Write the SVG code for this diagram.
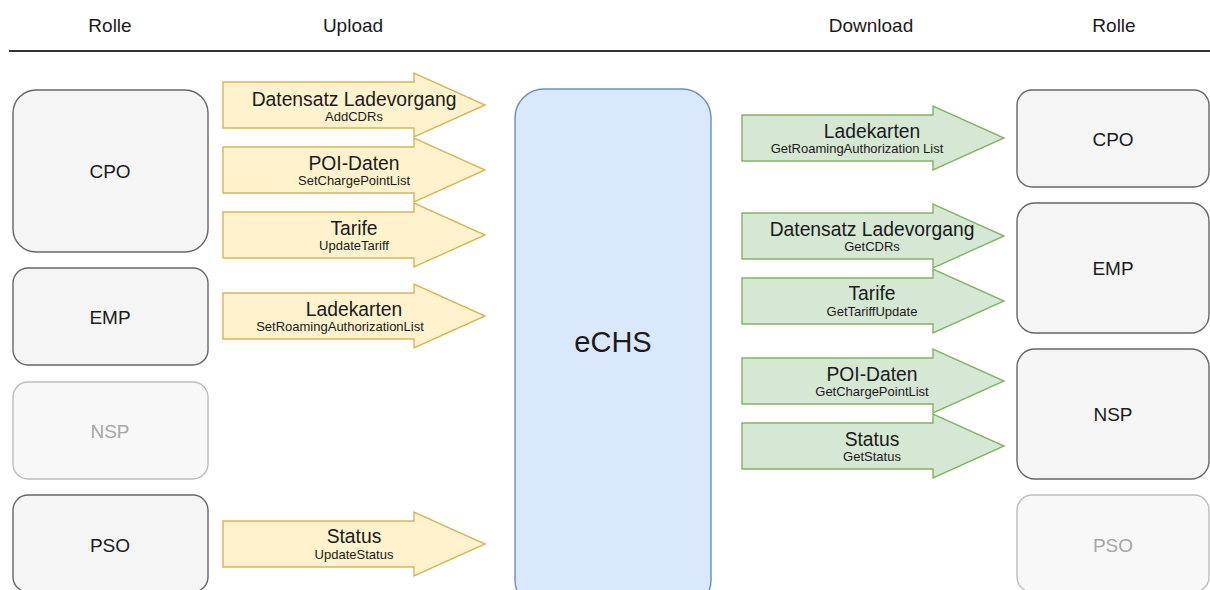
<svg xmlns="http://www.w3.org/2000/svg" width="1210" height="590" viewBox="0 0 1210 590">
  <style>
    text { font-family: "Liberation Sans", Arial, sans-serif; text-anchor: middle; fill: #1a1a1a; }
    .hdr { font-size: 19px; }
    .role { fill: #f5f5f5; stroke: #666666; stroke-width: 1.4; }
    .role-off { fill: #f8f8f8; stroke: #bdbdbd; stroke-width: 1.4; }
    .lbl { font-size: 19px; }
    .lbl-off { font-size: 19px; fill: #a6a6a6; }
    .hub { fill: #dae8fc; stroke: #6c8ebf; stroke-width: 1.4; }
    .hub-lbl { font-size: 29px; }
    .up { fill: #fff2cc; stroke: #d6b656; stroke-width: 1.4; }
    .down { fill: #d5e8d4; stroke: #82b366; stroke-width: 1.4; }
    .t { font-size: 19.3px; }
    .s { font-size: 13px; }
  </style>
  <defs>
    <!-- block arrow: body 46 high, head 64 high, origin at left middle -->
    <path id="blockArrow" d="M0,-23 H191 V-32 L262,0 L191,32 V23 H0 Z"/>
  </defs>

  <!-- column headers -->
  <g id="header">
    <text class="hdr" x="110" y="32">Rolle</text>
    <text class="hdr" x="353" y="32">Upload</text>
    <text class="hdr" x="871" y="32">Download</text>
    <text class="hdr" x="1114" y="32">Rolle</text>
    <line x1="9" y1="51" x2="1210" y2="51" stroke="#333333" stroke-width="2"/>
  </g>

  <!-- roles on the upload side -->
  <g id="left-cpo">
    <rect class="role" x="13" y="90" width="195" height="162" rx="23"/>
    <text class="lbl" x="110" y="178">CPO</text>
  </g>
  <g id="left-emp">
    <rect class="role" x="13" y="268" width="195" height="97" rx="15"/>
    <text class="lbl" x="110" y="324">EMP</text>
  </g>
  <g id="left-nsp">
    <rect class="role-off" x="13" y="382" width="195" height="97" rx="15"/>
    <text class="lbl-off" x="110" y="438">NSP</text>
  </g>
  <g id="left-pso">
    <rect class="role" x="13" y="495" width="195" height="97" rx="15"/>
    <text class="lbl" x="110" y="552">PSO</text>
  </g>

  <!-- clearing house -->
  <g id="echs">
    <rect class="hub" x="515" y="89" width="196" height="520" rx="29"/>
    <text class="hub-lbl" x="613" y="352">eCHS</text>
  </g>

  <!-- roles on the download side -->
  <g id="right-cpo">
    <rect class="role" x="1017" y="90" width="192" height="97" rx="15"/>
    <text class="lbl" x="1113" y="146">CPO</text>
  </g>
  <g id="right-emp">
    <rect class="role" x="1017" y="203" width="192" height="130" rx="18"/>
    <text class="lbl" x="1113" y="275">EMP</text>
  </g>
  <g id="right-nsp">
    <rect class="role" x="1017" y="349" width="192" height="130" rx="18"/>
    <text class="lbl" x="1113" y="421">NSP</text>
  </g>
  <g id="right-pso">
    <rect class="role-off" x="1017" y="495" width="192" height="97" rx="15"/>
    <text class="lbl-off" x="1113" y="552">PSO</text>
  </g>

  <!-- data flows -->
  <g id="connectors">
    <g id="up-cdrs">
      <use href="#blockArrow" class="up" transform="translate(223,105)"/>
      <text class="t" x="354" y="106">Datensatz Ladevorgang</text>
      <text class="s" x="354" y="121">AddCDRs</text>
    </g>
    <g id="up-poi">
      <use href="#blockArrow" class="up" transform="translate(223,170)"/>
      <text class="t" x="354" y="170">POI-Daten</text>
      <text class="s" x="354" y="185">SetChargePointList</text>
    </g>
    <g id="up-tariff">
      <use href="#blockArrow" class="up" transform="translate(223,235)"/>
      <text class="t" x="354" y="235">Tarife</text>
      <text class="s" x="354" y="250">UpdateTariff</text>
    </g>
    <g id="up-cards">
      <use href="#blockArrow" class="up" transform="translate(223,316)"/>
      <text class="t" x="354" y="316">Ladekarten</text>
      <text class="s" x="340" y="331">SetRoamingAuthorizationList</text>
    </g>
    <g id="up-status">
      <use href="#blockArrow" class="up" transform="translate(223,544)"/>
      <text class="t" x="354" y="543">Status</text>
      <text class="s" x="354" y="559">UpdateStatus</text>
    </g>

    <g id="down-cards">
      <use href="#blockArrow" class="down" transform="translate(742,138)"/>
      <text class="t" x="872" y="138">Ladekarten</text>
      <text class="s" x="857" y="153">GetRoamingAuthorization List</text>
    </g>
    <g id="down-cdrs">
      <use href="#blockArrow" class="down" transform="translate(742,236)"/>
      <text class="t" x="872" y="236">Datensatz Ladevorgang</text>
      <text class="s" x="872" y="251">GetCDRs</text>
    </g>
    <g id="down-tariff">
      <use href="#blockArrow" class="down" transform="translate(742,301)"/>
      <text class="t" x="872" y="300">Tarife</text>
      <text class="s" x="872" y="316">GetTariffUpdate</text>
    </g>
    <g id="down-poi">
      <use href="#blockArrow" class="down" transform="translate(742,381)"/>
      <text class="t" x="872" y="381">POI-Daten</text>
      <text class="s" x="872" y="396">GetChargePointList</text>
    </g>
    <g id="down-status">
      <use href="#blockArrow" class="down" transform="translate(742,446)"/>
      <text class="t" x="872" y="446">Status</text>
      <text class="s" x="872" y="461">GetStatus</text>
    </g>
  </g>
</svg>
